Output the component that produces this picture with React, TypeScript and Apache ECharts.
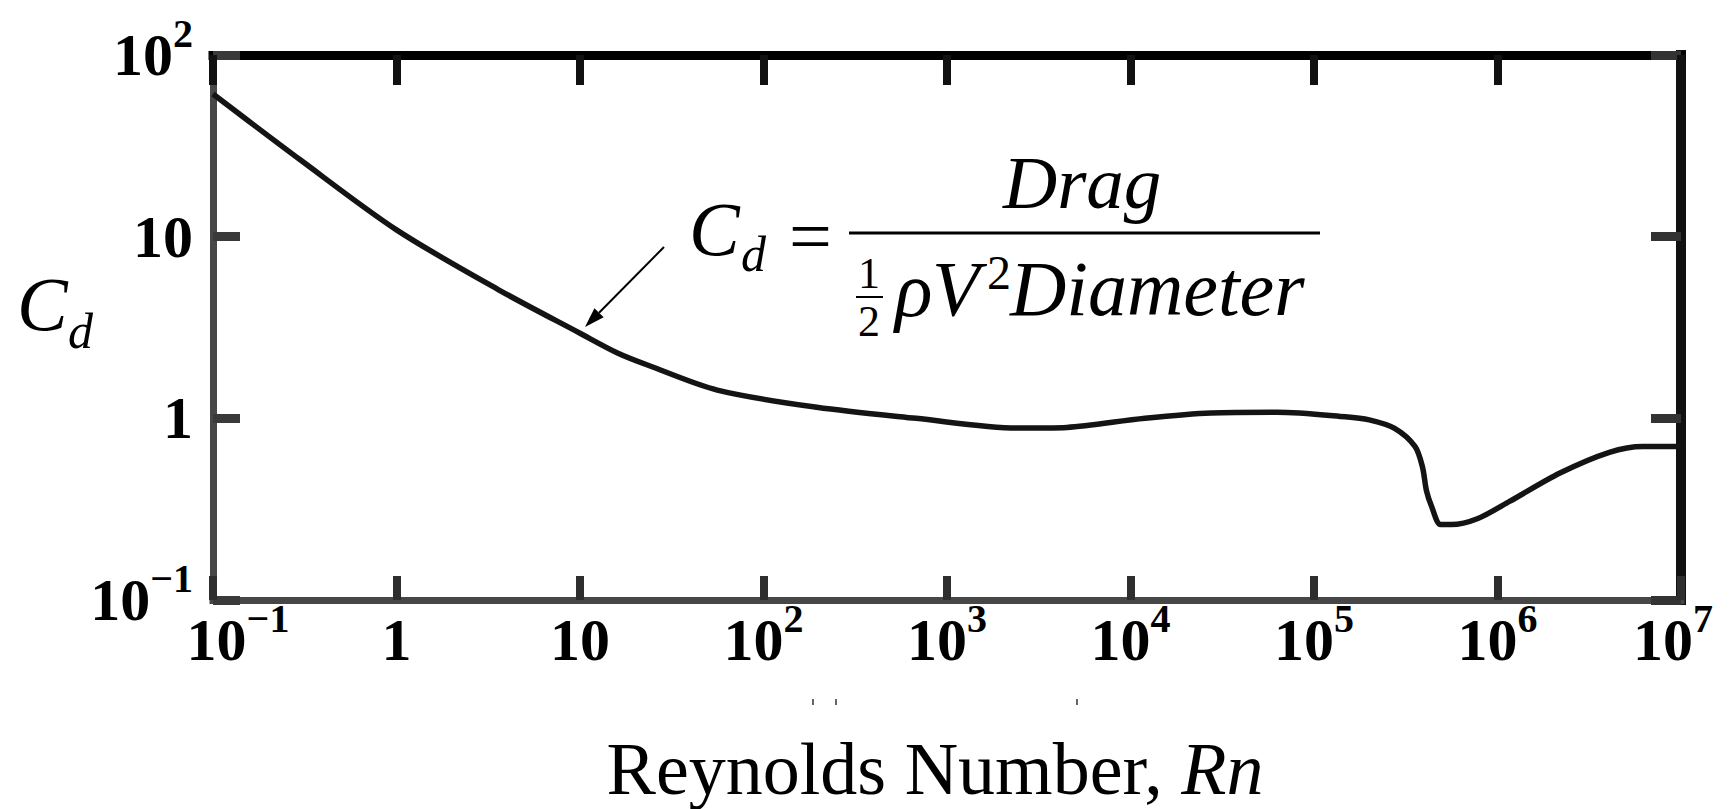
import React, { useEffect, useRef } from "react";
import * as echarts from "echarts";

// Reynolds number (x) and drag coefficient (y)
const REYNOLDS = [
  0.1, 0.3, 1, 3.6, 10, 16, 23.5, 56, 195, 680, 2400, 3500, 4500, 12000, 27500,
  63000, 148000, 200000, 275000, 355000, 390000, 410000, 436000, 490000, 560000,
  776000, 1.17e6, 2.19e6, 4.07e6, 6.2e6, 1e7,
];
const DRAG_COEFF = [
  61, 26.4, 10.9, 5.1, 2.94, 2.29, 1.96, 1.43, 1.15, 1.0, 0.885, 0.885, 0.89, 1.0,
  1.07, 1.08, 1.02, 0.98, 0.88, 0.7, 0.54, 0.4, 0.33, 0.26, 0.26, 0.28, 0.35, 0.5,
  0.65, 0.7, 0.7,
];

// Axis ranges and tick labels (base / superscript per decade exponent)
const X_MIN = 0.1;
const X_MAX = 1e7;
const Y_MIN = 0.1;
const Y_MAX = 100;
const TICK_BASE: Record<string, string> = { "-1": "10", "0": "1", "1": "10", "2": "10", "3": "10", "4": "10", "5": "10", "6": "10", "7": "10" };
const TICK_SUP: Record<string, string> = { "-1": "−1", "0": "", "1": "", "2": "2", "3": "3", "4": "4", "5": "5", "6": "6", "7": "7" };

const X_TITLE = "Reynolds Number, ";
const X_TITLE_ITALIC = "Rn";

const SERIF = "Liberation Serif";

function labelFor(v: number, axis: "x" | "y") {
  const e = Math.round(Math.log10(v));
  const base = TICK_BASE[String(e)] ?? "10";
  const sup = TICK_SUP[String(e)] ?? String(e);
  let bStyle = "b";
  let sStyle = "s";
  if (axis === "x" && e === -1) bStyle = "bl";
  if (axis === "x" && e === 7) sStyle = "sr";
  return sup ? `{${bStyle}|${base}}{${sStyle}|${sup}}` : `{${bStyle}|${base}}`;
}

const bRich = { fontFamily: SERIF, fontWeight: "bold", fontSize: 60, lineHeight: 84, color: "#000" };
const sRich = { fontFamily: SERIF, fontWeight: "bold", fontSize: 40, lineHeight: 40, verticalAlign: "top", color: "#000" };
const RICH = {
  b: bRich,
  bl: { ...bRich, padding: [0, 0, 0, 50] },
  s: sRich,
  sr: { ...sRich, padding: [0, 16, 0, 0] },
};

function txt(text: string, x: number, y: number, size: number, italic: boolean, align = "left") {
  return {
    type: "text",
    x,
    y,
    silent: true,
    style: {
      text,
      fontFamily: SERIF,
      fontSize: size,
      fontStyle: italic ? "italic" : "normal",
      fill: "#000",
      textAlign: align,
      align,
      textVerticalAlign: "middle",
      verticalAlign: "middle",
    },
  };
}

export default function App() {
  const ref = useRef<HTMLDivElement>(null);

  useEffect(() => {
    if (!ref.current) return;
    const chart = echarts.init(ref.current, undefined, { renderer: "svg" });
    const data = REYNOLDS.map((r, i) => [r, DRAG_COEFF[i]]);

    const tipX = 585, tipY = 327, tailX = 664, tailY = 247;
    const dx = tailX - tipX, dy = tailY - tipY;
    const len = Math.hypot(dx, dy);
    const ux = dx / len, uy = dy / len;
    const hl = 20, hw = 6.5;
    const bx = tipX + ux * hl, by = tipY + uy * hl;

    chart.setOption({
      animation: false,
      backgroundColor: "#fff",
      grid: { left: 213, top: 55, right: 44, bottom: 209, containLabel: false },
      xAxis: [
        {
          type: "log",
          logBase: 10,
          min: X_MIN,
          max: X_MAX,
          splitNumber: 8,
          position: "bottom",
          axisLine: { show: true, lineStyle: { color: "#474747", width: 7, cap: "square" } },
          axisTick: { show: true, inside: true, length: 24, lineStyle: { color: "#2e2e2e", width: 8 } },
          axisLabel: {
            show: true,
            margin: -2,
            showMinLabel: true,
            showMaxLabel: true,
            formatter: (v: number) => labelFor(v, "x"),
            rich: RICH,
          },
          splitLine: { show: false },
          minorTick: { show: false },
        },
        {
          type: "log",
          logBase: 10,
          min: X_MIN,
          max: X_MAX,
          splitNumber: 8,
          position: "top",
          axisLine: { show: true, lineStyle: { color: "#000", width: 9, cap: "square" } },
          axisTick: { show: true, inside: true, length: 30, lineStyle: { color: "#111", width: 8 } },
          axisLabel: { show: false },
          splitLine: { show: false },
        },
      ],
      yAxis: [
        {
          type: "log",
          logBase: 10,
          min: Y_MIN,
          max: Y_MAX,
          splitNumber: 3,
          position: "left",
          axisLine: { show: true, lineStyle: { color: "#474747", width: 7, cap: "square" } },
          axisTick: { show: true, inside: true, length: 27, lineStyle: { color: "#3a3a3a", width: 9 } },
          axisLabel: {
            show: true,
            margin: 20,
            showMinLabel: true,
            showMaxLabel: true,
            formatter: (v: number) => labelFor(v, "y"),
            rich: RICH,
          },
          splitLine: { show: false },
        },
        {
          type: "log",
          logBase: 10,
          min: Y_MIN,
          max: Y_MAX,
          splitNumber: 3,
          position: "right",
          axisLine: { show: true, lineStyle: { color: "#111", width: 10, cap: "square" } },
          axisTick: { show: true, inside: true, length: 30, lineStyle: { color: "#333", width: 9 } },
          axisLabel: { show: false },
          splitLine: { show: false },
        },
      ],
      series: [
        {
          type: "line",
          xAxisIndex: 0,
          yAxisIndex: 0,
          data,
          showSymbol: false,
          smooth: 0.3,
          lineStyle: { color: "#141414", width: 5.5 },
          z: 3,
        },
      ],
      graphic: [
        // y-axis title C_d
        txt("C", 17, 304, 76, true),
        txt("d", 68, 331, 50, true),
        // formula C_d = Drag / (1/2 rho V^2 Diameter)
        txt("C", 689, 229, 76, true),
        txt("d", 741, 254, 50, true),
        txt("=", 789, 236, 76, false),
        { type: "line", silent: true, shape: { x1: 849, y1: 233, x2: 1320, y2: 233 }, style: { stroke: "#000", lineWidth: 3 } },
        txt("Drag", 1003, 182, 75, true),
        txt("1", 869, 273, 44, false, "center"),
        { type: "line", silent: true, shape: { x1: 856, y1: 297, x2: 883, y2: 297 }, style: { stroke: "#000", lineWidth: 2 } },
        txt("2", 869, 321, 44, false, "center"),
        txt("ρ", 895, 289, 78, true),
        txt("V", 932, 288, 78, true),
        txt("2", 987, 272, 48, false),
        txt("Diameter", 1010, 288, 78, true),
        // arrow
        { type: "line", silent: true, shape: { x1: tailX, y1: tailY, x2: bx, y2: by }, style: { stroke: "#000", lineWidth: 2 } },
        {
          type: "polygon",
          silent: true,
          shape: { points: [[tipX, tipY], [bx - uy * hw, by + ux * hw], [bx + uy * hw, by - ux * hw]] },
          style: { fill: "#000" },
        },
        // faint specks under the tick labels
        { type: "rect", silent: true, shape: { x: 812, y: 699, width: 2, height: 6 }, style: { fill: "#666" } },
        { type: "rect", silent: true, shape: { x: 835, y: 699, width: 2, height: 6 }, style: { fill: "#666" } },
        { type: "rect", silent: true, shape: { x: 1076, y: 699, width: 2, height: 6 }, style: { fill: "#666" } },
        // x-axis title
        {
          type: "text",
          x: 935,
          y: 769,
          silent: true,
          style: {
            text: `${X_TITLE}{i|${X_TITLE_ITALIC}}`,
            fontFamily: SERIF,
            fontSize: 74,
            fill: "#000",
            textAlign: "center",
            align: "center",
            textVerticalAlign: "middle",
            verticalAlign: "middle",
            rich: { i: { fontFamily: SERIF, fontStyle: "italic", fontSize: 74, fill: "#000", color: "#000" } },
          },
        },
      ],
    });
    return () => chart.dispose();
  }, []);

  return (
    <div
      ref={ref}
      style={{ position: "fixed", left: 0, top: 0, width: 1732, height: 809, background: "#fff" }}
    />
  );
}
